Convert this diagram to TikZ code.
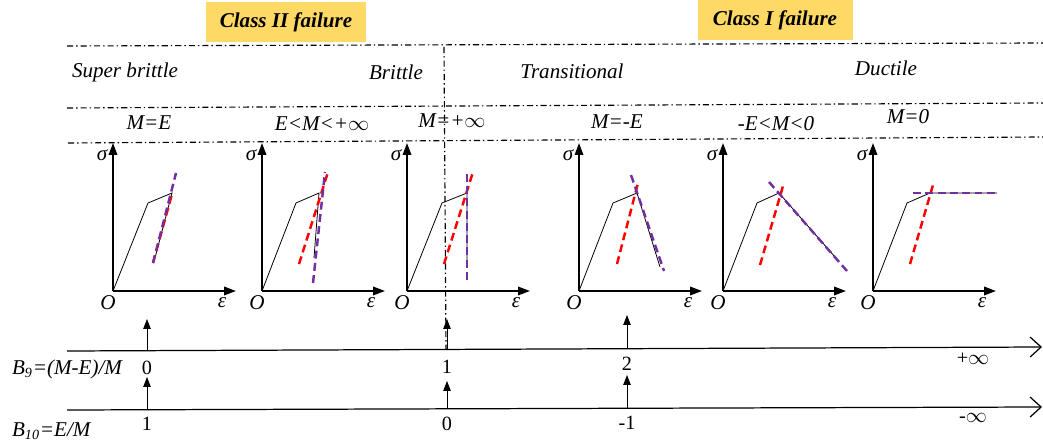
\documentclass[tikz,border=0pt]{standalone}
\usepackage{fontspec}
\setmainfont{Liberation Serif}
\usepackage{xcolor}
\usepackage{tikz}
\usetikzlibrary{arrows.meta,calc}

\definecolor{tagyellow}{HTML}{FFD966}
\definecolor{softpurple}{HTML}{7030A0}

\begin{document}
\begin{tikzpicture}[
  x=0.02cm, y=-0.02cm,
  tag/.style={rectangle, fill=tagyellow, minimum width=3.2cm, minimum height=0.8cm, font=\fontsize{12}{14}\selectfont\bfseries\itshape},
  lbl/.style={font=\fontsize{12}{14}\selectfont\itshape, inner sep=1pt},
  num/.style={font=\fontsize{11.5}{13}\selectfont, inner sep=1pt},
  sym/.style={font=\fontsize{12}{14}\selectfont\itshape, inner sep=0pt},
  frame/.style={line width=0.65pt, dash pattern=on 3.5pt off 1.7pt on 0.8pt off 1.7pt},
  axis/.style={-{Triangle[length=2.4mm,width=1.7mm]}, line width=1pt},
  curve/.style={line width=0.45pt},
  unload/.style={red, line width=1.4pt, dash pattern=on 4.5pt off 2.5pt},
  soft/.style={softpurple, line width=1.4pt, dash pattern=on 4.5pt off 2.5pt},
  scaleline/.style={-{Straight Barb[length=2.2mm,width=4mm]}, line width=0.7pt},
  uparrow/.style={-{Triangle[length=2mm,width=1.5mm]}, line width=0.5pt}
]
\useasboundingbox (0,0) rectangle (1043,448);

% Failure classes
\node[tag] (cls2) at (286,22) {Class II failure};
\node[tag, minimum width=3.1cm] (cls1) at (775,20) {Class I failure};

% Frame lines
\draw[frame] (67,46) -- (1043,43);
\draw[frame] (67,108) -- (1043,103);
\draw[frame] (68,143) -- (1043,137);
\draw[frame] (444,47) -- (446,349);

% Regimes
\node[lbl] (sbrit) at (125,72) {Super brittle};
\node[lbl] (brit) at (396,72) {Brittle};
\node[lbl] (trans) at (572,71) {Transitional};
\node[lbl] (duct) at (886,68) {Ductile};

% Moduli
\node[lbl] (m1) at (149,123) {M=E};
\node[lbl] (m2) at (322,124) {E<M<+$\infty$};
\node[lbl] (m3) at (452,121) {M=+$\infty$};
\node[lbl] (m4) at (617,122) {M=-E};
\node[lbl] (m5) at (776,124) {-E<M<0};
\node[lbl] (m6) at (908,117) {M=0};

% Stress-strain axes
\foreach \i/\ox in {1/113,2/262,3/407,4/579,5/723,6/873} {
  \coordinate (o\i) at (\ox,291);
  \draw[axis] (o\i) -- ++(0,-148);
  \draw[axis] (o\i) -- ++(123,0);
  \node[sym] (sig\i) at ($(o\i)+(-11,-136)$) {σ};
  \node[sym] (org\i) at ($(o\i)+(-5,12)$) {O};
  \node[sym] (eps\i) at ($(o\i)+(109,12)$) {ε};
}

% Curves
\draw[curve] (o1) -- ++(35,-88) -- ++(24,-10) -- ++(-17,65);
\draw[unload] ($(o1)+(40,-28)$) -- ++(19,-69);
\draw[soft] ($(o1)+(40,-28)$) -- ++(23,-90);
\draw[curve] (o2) -- ++(34,-88) -- ++(23,-10) -- ++(-5,65);
\draw[unload] ($(o2)+(37,-27)$) -- ++(29,-92);
\draw[soft] ($(o2)+(51,-8)$) -- ++(12,-111);
\draw[curve] (o3) -- ++(35,-88) -- ++(25,-10) -- ++(0,75);
\draw[unload] ($(o3)+(37,-27)$) -- ++(29,-92);
\draw[soft] ($(o3)+(60,-11)$) -- ++(0,-108);
\draw[curve] (o4) -- ++(34,-88) -- ++(24,-10) -- ++(23,74);
\draw[unload] ($(o4)+(38,-27)$) -- ++(21,-81);
\draw[soft] ($(o4)+(52,-116)$) -- ++(33,96);
\draw[curve] (o5) -- ++(34,-88) -- ++(22,-10) -- ++(56,64);
\draw[unload] ($(o5)+(37,-26)$) -- ++(23,-79);
\draw[soft] ($(o5)+(46,-109)$) -- ++(78,89);
\draw[curve] (o6) -- ++(34,-88) -- ++(23,-10) -- ++(67,0);
\draw[unload] ($(o6)+(37,-27)$) -- ++(23,-79);
\draw[soft] ($(o6)+(40,-98)$) -- ++(84,0);

% Scales
\coordinate (b9s) at (67,351);
\coordinate (b9e) at (1042,347);
\coordinate (b10s) at (67,410);
\coordinate (b10e) at (1042,407);
\draw[scaleline] (b9s) -- (b9e);
\draw[scaleline] (b10s) -- (b10e);
\node[lbl, anchor=west] (b9) at (10,369) {B\textsubscript{9}=(M-E)/M};
\node[lbl, anchor=west] (b10) at (10,431) {B\textsubscript{10}=E/M};

% Scale values
\node[num] (v90) at (147,368) {0};
\node[num] (v91) at (447,367) {1};
\node[num] (v92) at (627,364) {2};
\node[num] (v9i) at (973,359) {+$\infty$};
\node[num] (v101) at (147,424) {1};
\node[num] (v100) at (447,424) {0};
\node[num] (v10m) at (627,423) {-1};
\node[num] (v10i) at (973,418) {-$\infty$};

% Pointers
\coordinate (p1) at (147,351);
\coordinate (p2) at (447,349);
\coordinate (p3) at (627,348);
\coordinate (q1) at (147,410);
\coordinate (q2) at (447,409);
\coordinate (q3) at (627,408);
\draw[uparrow] (p1) -- ++(0,-32);
\draw[uparrow] (p2) -- ++(0,-30);
\draw[uparrow] (p3) -- ++(0,-33);
\draw[uparrow] (q1) -- ++(0,-33);
\draw[uparrow] (q2) -- ++(0,-28);
\draw[uparrow] (q3) -- ++(0,-33);

\end{tikzpicture}
\end{document}
